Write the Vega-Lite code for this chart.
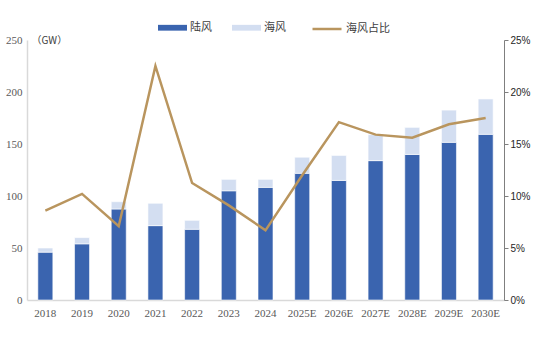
{
  "$schema": "https://vega.github.io/schema/vega-lite/v6.json",
  "width": 477,
  "height": 260,
  "autosize": "none",
  "padding": {"left": 27, "top": 40, "right": 33, "bottom": 37},
  "background": "white",
  "config": {"view": {"stroke": null}},
  "datasets": {
    "bars": [
      {"year": "2018", "type": "陆风", "value": 46},
      {"year": "2018", "type": "海风", "value": 4},
      {"year": "2019", "type": "陆风", "value": 54},
      {"year": "2019", "type": "海风", "value": 6},
      {"year": "2020", "type": "陆风", "value": 87.5},
      {"year": "2020", "type": "海风", "value": 7},
      {"year": "2021", "type": "陆风", "value": 71.5},
      {"year": "2021", "type": "海风", "value": 21.5},
      {"year": "2022", "type": "陆风", "value": 68},
      {"year": "2022", "type": "海风", "value": 8.6},
      {"year": "2023", "type": "陆风", "value": 105},
      {"year": "2023", "type": "海风", "value": 11},
      {"year": "2024", "type": "陆风", "value": 108.3},
      {"year": "2024", "type": "海风", "value": 7.7},
      {"year": "2025E", "type": "陆风", "value": 121.8},
      {"year": "2025E", "type": "海风", "value": 15.5},
      {"year": "2026E", "type": "陆风", "value": 115},
      {"year": "2026E", "type": "海风", "value": 24},
      {"year": "2027E", "type": "陆风", "value": 134},
      {"year": "2027E", "type": "海风", "value": 25},
      {"year": "2028E", "type": "陆风", "value": 140},
      {"year": "2028E", "type": "海风", "value": 26},
      {"year": "2029E", "type": "陆风", "value": 151.6},
      {"year": "2029E", "type": "海风", "value": 31},
      {"year": "2030E", "type": "陆风", "value": 159.3},
      {"year": "2030E", "type": "海风", "value": 34}
    ],
    "share": [
      {"year": "2018", "share": 0.086},
      {"year": "2019", "share": 0.102},
      {"year": "2020", "share": 0.071},
      {"year": "2021", "share": 0.225},
      {"year": "2022", "share": 0.1125},
      {"year": "2023", "share": 0.091},
      {"year": "2024", "share": 0.067},
      {"year": "2025E", "share": 0.12},
      {"year": "2026E", "share": 0.171},
      {"year": "2027E", "share": 0.159},
      {"year": "2028E", "share": 0.156},
      {"year": "2029E", "share": 0.169},
      {"year": "2030E", "share": 0.175}
    ]
  },
  "encoding": {
    "x": {
      "field": "year",
      "type": "nominal",
      "sort": null,
      "scale": {"paddingInner": 0, "paddingOuter": 0},
      "axis": {
        "title": null,
        "labelAngle": 0,
        "labelFont": "Liberation Serif",
        "labelFontSize": 11,
        "labelColor": "#595959",
        "labelPadding": 7,
        "ticks": false,
        "domainColor": "#d9d9d9",
        "domainWidth": 1.5
      }
    }
  },
  "layer": [
    {
      "data": {"name": "bars"},
      "mark": {"type": "bar", "size": 15, "stroke": "white", "strokeWidth": 0.6},
      "encoding": {
        "y": {
          "field": "value",
          "type": "quantitative",
          "stack": "zero",
          "scale": {"domain": [0, 250], "nice": false},
          "axis": {
            "title": "（GW）",
            "titleAngle": 0,
            "titleX": 4,
            "titleY": 0,
            "titleAlign": "left",
            "titleBaseline": "middle",
            "titleFont": "Noto Sans CJK SC",
            "titleFontSize": 10,
            "titleFontWeight": "normal",
            "titleColor": "#404040",
            "values": [0, 50, 100, 150, 200, 250],
            "grid": false,
            "ticks": false,
            "labelFont": "Liberation Serif",
            "labelFontSize": 11,
            "labelColor": "#595959",
            "labelPadding": 5,
            "domainColor": "#d9d9d9",
            "domainWidth": 1.5
          }
        },
        "color": {
          "field": "type",
          "type": "nominal",
          "scale": {"domain": ["陆风", "海风"], "range": ["#3A64AF", "#D3DEF1"]},
          "legend": {
            "title": null,
            "orient": "none",
            "direction": "horizontal",
            "legendX": 131,
            "legendY": -27,
            "symbolType": "M-1,-0.2H1V0.2H-1Z",
            "symbolSize": 841,
            "symbolStrokeWidth": 0,
            "symbolOpacity": 1,
            "labelFont": "Noto Sans CJK SC",
            "labelFontSize": 11,
            "labelColor": "#404040",
            "labelOffset": 3,
            "columnPadding": 20
          }
        },
        "order": {"field": "type", "sort": "descending"}
      }
    },
    {
      "data": {"name": "share"},
      "mark": {"type": "line", "strokeWidth": 2.5, "strokeJoin": "miter"},
      "encoding": {
        "y": {
          "field": "share",
          "type": "quantitative",
          "scale": {"domain": [0, 0.25], "nice": false},
          "axis": {
            "title": null,
            "orient": "right",
            "format": ".0%",
            "values": [0, 0.05, 0.1, 0.15, 0.2, 0.25],
            "grid": false,
            "ticks": true,
            "tickSize": 4,
            "tickColor": "#7f7f7f",
            "labelFont": "Liberation Sans",
            "labelFontSize": 10,
            "labelColor": "#262626",
            "labelPadding": 2,
            "domainColor": "#7f7f7f",
            "domainWidth": 1
          }
        },
        "stroke": {
          "datum": "海风占比",
          "type": "nominal",
          "scale": {"domain": ["海风占比"], "range": ["#B9955E"]},
          "legend": {
            "title": null,
            "orient": "none",
            "direction": "horizontal",
            "legendX": 284,
            "legendY": -27,
            "symbolType": "stroke",
            "symbolSize": 841,
            "symbolStrokeWidth": 2.5,
            "labelFont": "Noto Sans CJK SC",
            "labelFontSize": 11,
            "labelColor": "#404040",
            "labelOffset": 3
          }
        }
      }
    }
  ],
  "resolve": {"scale": {"y": "independent"}}
}
